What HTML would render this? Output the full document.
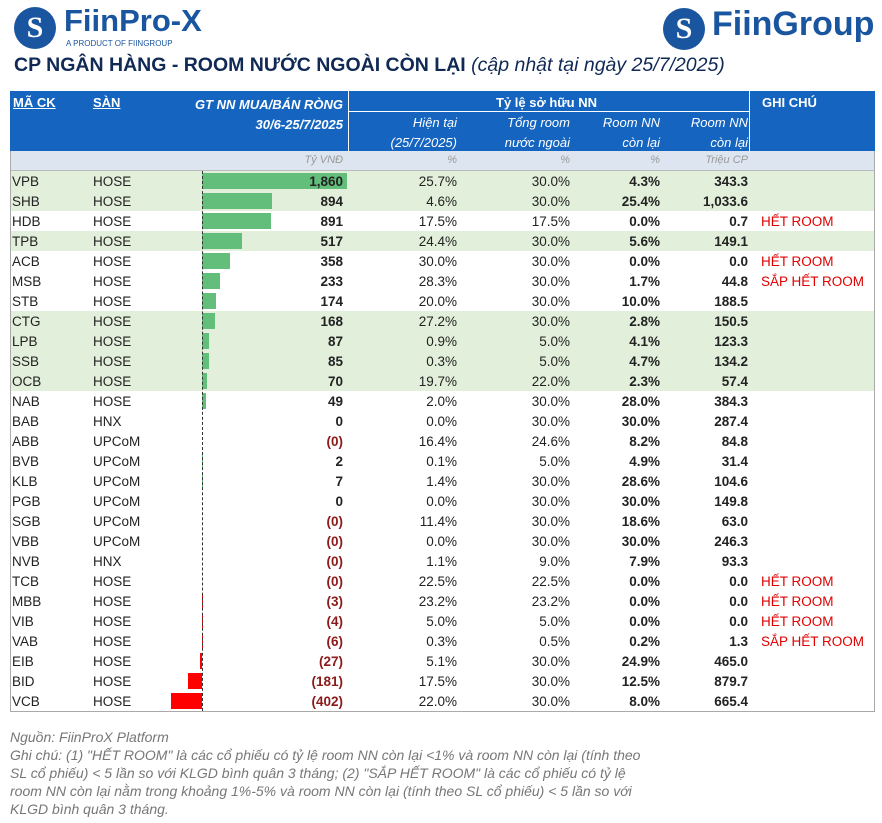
<!DOCTYPE html>
<html><head><meta charset="utf-8"><style>
body{margin:0;width:882px;height:823px;background:#fff;font-family:"Liberation Sans",sans-serif;position:relative;overflow:hidden}
.a{position:absolute;white-space:nowrap}
.hd{background:#1565c0;color:#fff;font-weight:bold;font-size:13px}
.c{position:absolute;font-size:13.5px;color:#222;top:3px}
</style></head><body>
<div class="a" style="left:14px;top:7px;width:42px;height:42px;border-radius:50%;background:#1a56a0;color:#fff;font:bold 30px 'Liberation Serif',serif;text-align:center;line-height:42px">S</div>
<div class="a" style="left:64px;top:3px;font-size:31px;font-weight:bold;color:#1a56a0">FiinPro-X</div>
<div class="a" style="left:66px;top:39px;font-size:8px;color:#1a56a0">A PRODUCT OF FIINGROUP</div>
<div class="a" style="left:663px;top:8px;width:42px;height:42px;border-radius:50%;background:#1a56a0;color:#fff;font:bold 30px 'Liberation Serif',serif;text-align:center;line-height:42px">S</div>
<div class="a" style="left:712px;top:5px;font-size:34px;font-weight:bold;color:#1a56a0">FiinGroup</div>
<div class="a" style="left:14px;top:54px;font-size:19.5px;font-weight:bold;color:#102a55">CP NGÂN HÀNG - ROOM NƯỚC NGOÀI CÒN LẠI <span style="font-weight:normal;font-style:italic;font-size:19.5px">(cập nhật tại ngày 25/7/2025)</span></div>
<div id="tbl"></div>
<div class="a" style="left:10px;top:728px;font-size:14px;font-style:italic;color:#777;line-height:18px">Nguồn: FiinProX Platform<br>Ghi chú: (1) "HẾT ROOM" là các cổ phiếu có tỷ lệ room NN còn lại &lt;1% và room NN còn lại (tính theo<br>SL cổ phiếu) &lt; 5 lần so với KLGD bình quân 3 tháng; (2) "SẮP HẾT ROOM" là các cổ phiếu có tỷ lệ<br>room NN còn lại nằm trong khoảng 1%-5% và room NN còn lại (tính theo SL cổ phiếu) &lt; 5 lần so với<br>KLGD bình quân 3 tháng.</div>
<script>
const tickers=["VPB","SHB","HDB","TPB","ACB","MSB","STB","CTG","LPB","SSB","OCB","NAB","BAB","ABB","BVB","KLB","PGB","SGB","VBB","NVB","TCB","MBB","VIB","VAB","EIB","BID","VCB"];
const exchanges=["HOSE","HOSE","HOSE","HOSE","HOSE","HOSE","HOSE","HOSE","HOSE","HOSE","HOSE","HOSE","HNX","UPCoM","UPCoM","UPCoM","UPCoM","UPCoM","UPCoM","HNX","HOSE","HOSE","HOSE","HOSE","HOSE","HOSE","HOSE"];
const netValues=[1860,894,891,517,358,233,174,168,87,85,70,49,0,-0.2,2,7,0,-0.2,-0.2,-0.2,-0.2,-3,-4,-6,-27,-181,-402];
const netLabels=["1,860","894","891","517","358","233","174","168","87","85","70","49","0","(0)","2","7","0","(0)","(0)","(0)","(0)","(3)","(4)","(6)","(27)","(181)","(402)"];
const currentOwn=["25.7%","4.6%","17.5%","24.4%","30.0%","28.3%","20.0%","27.2%","0.9%","0.3%","19.7%","2.0%","0.0%","16.4%","0.1%","1.4%","0.0%","11.4%","0.0%","1.1%","22.5%","23.2%","5.0%","0.3%","5.1%","17.5%","22.0%"];
const totalRoom=["30.0%","30.0%","17.5%","30.0%","30.0%","30.0%","30.0%","30.0%","5.0%","5.0%","22.0%","30.0%","30.0%","24.6%","5.0%","30.0%","30.0%","30.0%","30.0%","9.0%","22.5%","23.2%","5.0%","0.5%","30.0%","30.0%","30.0%"];
const roomPct=["4.3%","25.4%","0.0%","5.6%","0.0%","1.7%","10.0%","2.8%","4.1%","4.7%","2.3%","28.0%","30.0%","8.2%","4.9%","28.6%","30.0%","18.6%","30.0%","7.9%","0.0%","0.0%","0.0%","0.2%","24.9%","12.5%","8.0%"];
const roomShares=["343.3","1,033.6","0.7","149.1","0.0","44.8","188.5","150.5","123.3","134.2","57.4","384.3","287.4","84.8","31.4","104.6","149.8","63.0","246.3","93.3","0.0","0.0","0.0","1.3","465.0","879.7","665.4"];
const notes=["","","HẾT ROOM","","HẾT ROOM","SẮP HẾT ROOM","","","","","","","","","","","","","","","HẾT ROOM","HẾT ROOM","HẾT ROOM","SẮP HẾT ROOM","","",""];
const greenRows=["VPB","SHB","TPB","CTG","LPB","SSB","OCB"];
const T=document.getElementById('tbl');
function add(html){T.insertAdjacentHTML('beforeend',html);}
add('<div class="a hd" style="left:10px;top:91px;width:865px;height:60px"></div>');
add('<div class="a" style="left:348px;top:91px;width:1px;height:60px;background:#fff"></div>');
add('<div class="a" style="left:749px;top:91px;width:1px;height:60px;background:#fff"></div>');
add('<div class="a" style="left:349px;top:111px;width:400px;height:1px;background:#fff"></div>');
const H='color:#fff;font-size:13px;';
add('<div class="a" style="'+H+'left:13px;top:95px;font-weight:bold;text-decoration:underline">MÃ CK</div>');
add('<div class="a" style="'+H+'left:93px;top:95px;font-weight:bold;text-decoration:underline">SÀN</div>');
add('<div class="a" style="'+H+'right:539px;top:95px;font-weight:bold;font-style:italic;text-align:right;line-height:20px">GT NN MUA/BÁN RÒNG<br>30/6-25/7/2025</div>');
add('<div class="a" style="'+H+'left:496px;top:95px;font-weight:bold">Tỷ lệ sở hữu NN</div>');
add('<div class="a" style="'+H+'left:762px;top:95px;font-weight:bold">GHI CHÚ</div>');
const sub=[["Hiện tại<br>(25/7/2025)",425],["Tổng room<br>nước ngoài",312],["Room NN<br>còn lại",222],["Room NN<br>còn lại",134]];
sub.forEach(s=>add('<div class="a" style="'+H+'right:'+s[1]+'px;top:113px;font-style:italic;text-align:right;line-height:20px">'+s[0]+'</div>'));
add('<div class="a" style="left:10px;top:151px;width:865px;height:19px;background:#dde6f0;border-bottom:1px solid #bbb"></div>');
[["Tỷ VNĐ",539],["%",425],["%",312],["%",222],["Triệu CP",134]].forEach(u=>add('<div class="a" style="right:'+u[1]+'px;top:154px;font-size:11px;font-style:italic;color:#999">'+u[0]+'</div>'));
const x0=202, sc=0.078, top0=171, rh=20;
tickers.forEach((t,i)=>{
  const y=top0+i*rh, g=greenRows.includes(t);
  const row=document.createElement('div');
  row.className='a';
  
  
  row.style.cssText='left:10px;top:'+y+'px;width:865px;height:'+rh+'px;'+(g?'background:#e2efda;':'');
  T.appendChild(row);
  const v=netValues[i], w=Math.abs(v)*sc;
  const bar=document.createElement('div');
  bar.className='a';
  
  
  bar.style.cssText='top:'+(y+2)+'px;height:16px;background:'+(v>=0?'#63be7b':'#f00')+';left:'+(v>=0?x0:x0-w)+'px;width:'+w+'px';
  T.appendChild(bar);
  const neg=netLabels[i].startsWith('(');
  add('<div class="a" style="left:0;top:'+y+'px;width:882px;height:20px">'+
   '<div class="c" style="left:12px">'+t+'</div><div class="c" style="left:93px">'+exchanges[i]+'</div>'+
   '<div class="c" style="right:539px;font-weight:bold;color:'+(neg?'#8b1a1a':'#222')+'">'+netLabels[i]+'</div>'+
   '<div class="c" style="right:425px">'+currentOwn[i]+'</div><div class="c" style="right:312px">'+totalRoom[i]+'</div>'+
   '<div class="c" style="right:222px;font-weight:bold">'+roomPct[i]+'</div><div class="c" style="right:134px;font-weight:bold">'+roomShares[i]+'</div>'+
   '<div class="c" style="left:761px;color:#e00000">'+notes[i]+'</div></div>');
});
add('<div class="a" style="left:'+x0+'px;top:171px;height:'+(tickers.length*rh)+'px;border-left:1px dashed #333"></div>');
add('<div class="a" style="left:10px;top:'+(top0+tickers.length*rh)+'px;width:865px;height:1px;background:#aaa"></div>');
add('<div class="a" style="left:874px;top:151px;width:1px;height:'+(20+tickers.length*rh)+'px;background:#aaa"></div>');
add('<div class="a" style="left:10px;top:151px;width:1px;height:'+(20+tickers.length*rh)+'px;background:#aaa"></div>');
</script>
</body></html>
